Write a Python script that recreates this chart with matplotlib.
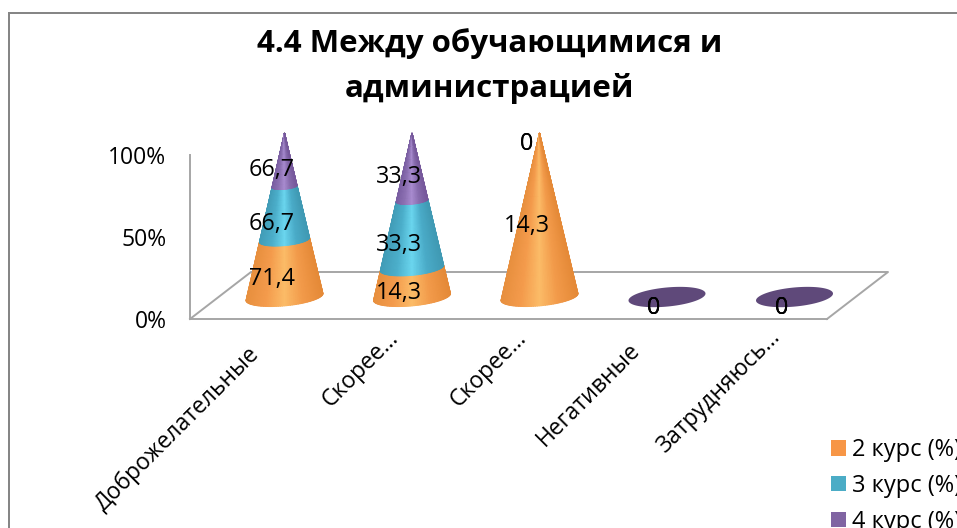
import numpy as np
import matplotlib
matplotlib.use("Agg")
import matplotlib.pyplot as plt
from matplotlib.colors import LinearSegmentedColormap
from matplotlib.patches import Patch, Rectangle
from matplotlib.transforms import ScaledTranslation

categories = ["Доброжелательные", "Скорее…", "Скорее…", "Негативные", "Затрудняюсь…"]
series_names = ["2 курс (%)", "3 курс (%)", "4 курс (%)"]
course2 = [71.4, 14.3, 14.3, 0, 0]
course3 = [66.7, 33.3, 0, 0, 0]
course4 = [66.7, 33.3, 0, 0, 0]
y_ticks = [0, 50, 100]
y_labels = ["0%", "50%", "100%"]
title = "4.4 Между обучающимися и\nадминистрацией"

W, H = 957, 528
FONT = "Open Sans"
plt.rcParams["font.family"] = [FONT, "DejaVu Sans"]
fig = plt.figure(figsize=(W / 100, H / 100), dpi=100)
fig.patch.set_facecolor("white")

def px_x(p): return p / W
def px_y(p): return 1 - p / H

left, right, top, bottom = 190, 827, 155, 319
ax = fig.add_axes([px_x(left), px_y(bottom), (right - left) / W, (bottom - top) / H])
ax.patch.set_alpha(0)
step = 127.5
xlim = ((left - 284.5) / step, (right - 284.5) / step)
ax.set_xlim(*xlim)
ax.set_ylim(0, 100)
uy = (bottom - top) / 100

GRAY = "#a6a6a6"
for s in ("top", "right"):
    ax.spines[s].set_visible(False)
for s in ("left", "bottom"):
    ax.spines[s].set_color(GRAY)
    ax.spines[s].set_linewidth(1.4)

# floor of the 3-D box
dx, dy = 61 / step, 47 / uy
ax.plot([xlim[1], xlim[1] + dx, xlim[0] + dx, xlim[0]], [0, dy, dy, 0],
        color=GRAY, lw=1.4, clip_on=False, zorder=1)

fills = ["#F79646", "#4BACC6", "#8064A2"]
cmaps = [
    LinearSegmentedColormap.from_list("o", ["#E8903F", "#F49B4C", "#FCBC68", "#F29A4A", "#E58A38"]),
    LinearSegmentedColormap.from_list("t", ["#429DB8", "#4CAFCB", "#6BD6EF", "#4AABC8", "#409AB4"]),
    LinearSegmentedColormap.from_list("p", ["#7A5EA2", "#8C70B2", "#A98CD0", "#886CAE", "#77599C"]),
]
DISK = "#5F497A"

radius = 38.5 / step
minor = 5.4
tilt = 7.0
base = 13.4
height = 100.0
LABEL_SIZE = 16.8

theta = np.linspace(-np.pi / 2, np.pi / 2, 61)
values = np.array([course2, course3, course4], dtype=float)
totals = values.sum(axis=0)

for i in range(len(categories)):
    if totals[i] == 0:
        t = np.linspace(0, 2 * np.pi, 120)
        ex = radius * np.sin(t)
        ey = base + minor * 1.08 * np.cos(t) + tilt * ex
        ax.fill(i + ex, ey, color=DISK, lw=0, clip_on=False, zorder=3)
        fr = np.zeros(4)
    else:
        fr = np.concatenate([[0], np.cumsum(values[:, i]) / totals[i]])
        for k in range(3):
            if values[k, i] == 0:
                continue
            h = np.linspace(fr[k], fr[k + 1], 12)
            TH, HH = np.meshgrid(theta, h)
            R = radius * (1 - HH)
            B = minor * (1 - HH)
            X = R * np.sin(TH)
            Y = base + height * HH - B * np.cos(TH) + tilt * X
            C = np.sin(TH)
            ax.pcolormesh(i + X, Y, C, shading="gouraud", cmap=cmaps[k],
                          vmin=-1, vmax=1, clip_on=False, zorder=3)
    # data labels
    for k in range(3):
        mid = (fr[k] + fr[k + 1]) / 2
        txt = f"{values[k, i]:g}".replace(".", ",")
        ax.text(i - 13 / step, base + height * mid - 6.4, txt, ha="center", va="center",
                fontsize=LABEL_SIZE, color="black", clip_on=False, zorder=5)

# axes ticks and labels
ax.set_yticks(y_ticks, y_labels, fontsize=16.5)
ax.set_xticks(range(len(categories)), categories, fontsize=16.5, rotation=45,
              ha="right", va="top", rotation_mode="anchor")
ax.tick_params(axis="y", length=0, pad=17, colors="black")
ax.tick_params(axis="x", length=0, pad=20, colors="black")
label_nudges = [(-37, 5), (-25, 21), (-25, 21), (-39, 9), (-27, 22)]
for lab, (nx, ny) in zip(ax.get_xticklabels(), label_nudges):
    lab.set_transform(lab.get_transform() + ScaledTranslation(nx / 100, ny / 100, fig.dpi_scale_trans))

# title
fig.text(px_x(490), px_y(66), title, ha="center", va="center", fontsize=22.5, fontweight="bold",
         color="black", linespacing=1.56)

# legend
handles = [Patch(facecolor=c, edgecolor="none") for c in fills]
fig.legend(handles, series_names, loc="upper left",
           bbox_to_anchor=(px_x(831), px_y(438)), frameon=False, fontsize=17,
           handlelength=0.64, handleheight=0.64, handletextpad=0.25,
           labelspacing=0.5, borderpad=0, borderaxespad=0)

# chart frame running off the right and bottom edges
fig.add_artist(Rectangle((px_x(9), px_y(H + 20)), (W + 20) / W, (H + 20 - 13) / H,
                         transform=fig.transFigure, fill=False, edgecolor="#868686", lw=1.44))

fig.savefig("out.png", dpi=100)
